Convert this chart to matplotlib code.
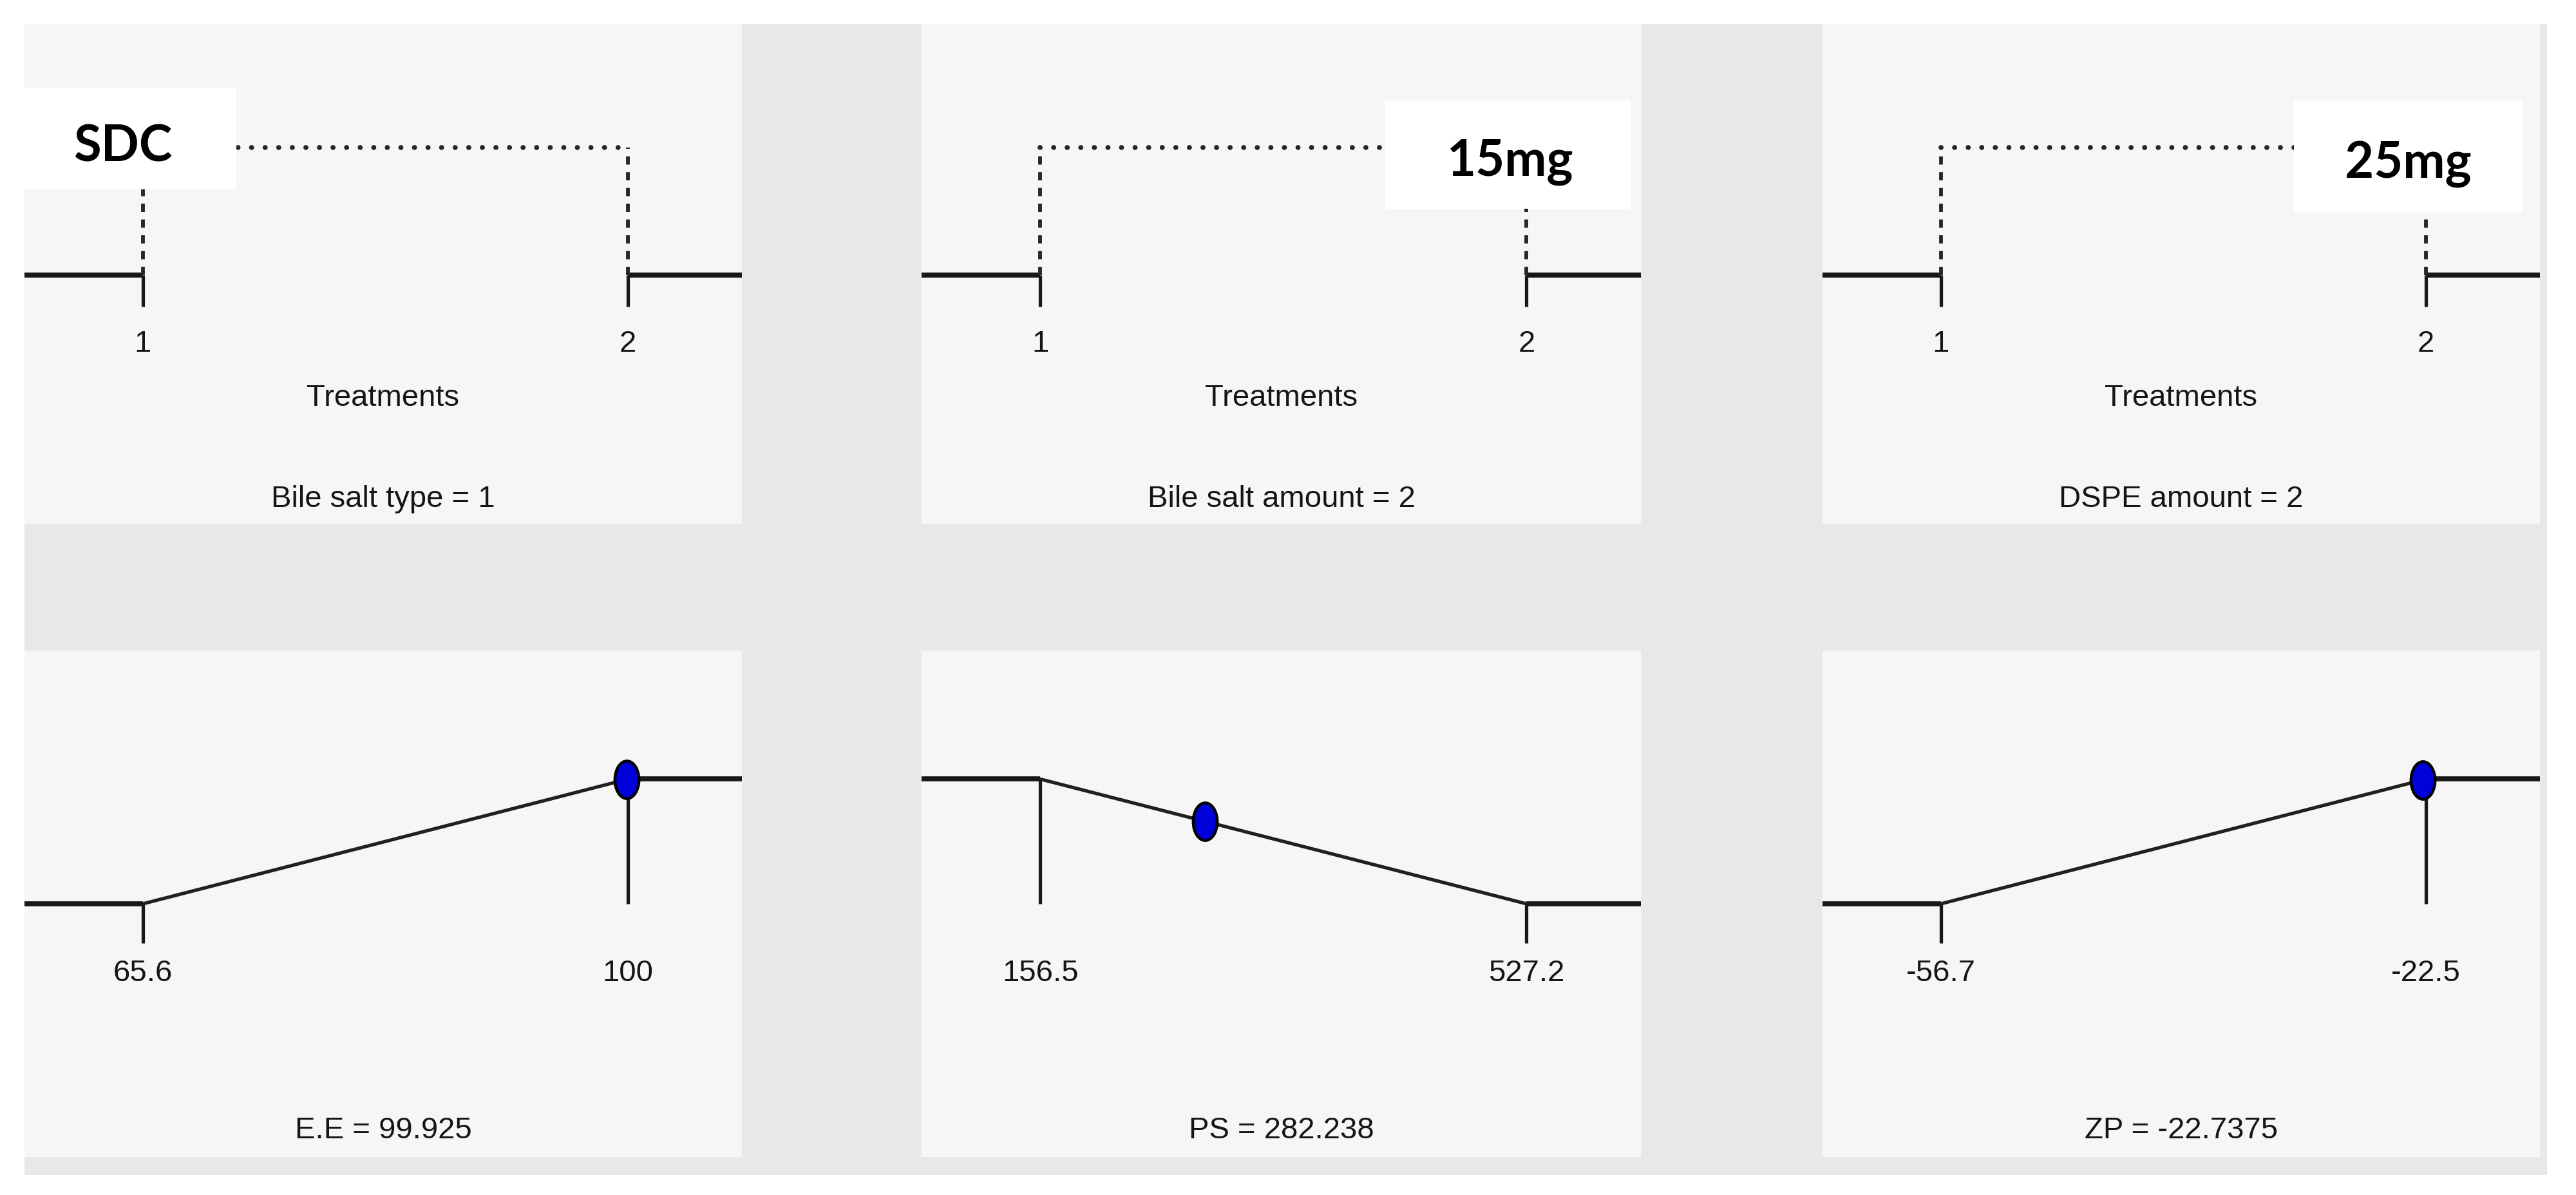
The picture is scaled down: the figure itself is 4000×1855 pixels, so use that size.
import matplotlib
matplotlib.use("Agg")
import matplotlib.pyplot as plt
from matplotlib import font_manager
from matplotlib.markers import MarkerStyle
from matplotlib.patches import Rectangle
from matplotlib.transforms import Affine2D

# ---------------- data ----------------
factor_names = ["Bile salt type", "Bile salt amount", "DSPE amount"]
factor_levels = [1, 2]
factor_settings = [1, 2, 2]
factor_notes = ["SDC", "15mg", "25mg"]

response_names = ["E.E", "PS", "ZP"]
response_low = [65.6, 156.5, -56.7]
response_high = [100, 527.2, -22.5]
response_goal = ["max", "min", "max"]
response_pred = [99.925, 282.238, -22.7375]

# ---------------- fonts ----------------
try:
    font_manager.findfont("Liberation Sans Narrow", fallback_to_default=False)
    LABEL_FONT, LABEL_FS = "Liberation Sans Narrow", 40
except ValueError:
    LABEL_FONT, LABEL_FS = "Liberation Sans", 34
NOTE_FONT = "Lato"

W, H = 4000, 1856
fig = plt.figure(figsize=(W / 100, H / 100), dpi=100, facecolor="white")

# grey frame behind the panels
fig.add_artist(Rectangle((38 / W, 1 - 1825 / H), (3955 - 38) / W, (1825 - 38) / H,
                         transform=fig.transFigure, facecolor="#e8e8e8",
                         edgecolor="none", zorder=0))

cols = [(38, 1152), (1431, 2548), (2830, 3944)]
rows = [(38, 815), (1011, 1797)]
F1, F2 = 0.165, 0.841  # axes fraction of the low / high marks

TXT = "#151515"
LINE = "#181818"
THICK, THIN = 5.6, 3.8


def make_ax(col, row):
    x0, x1 = cols[col]
    y0, y1 = rows[row]
    ax = fig.add_axes([x0 / W, 1 - y1 / H, (x1 - x0) / W, (y1 - y0) / H])
    ax.set_facecolor("#f6f6f6")
    for s in ax.spines.values():
        s.set_visible(False)
    ax.set_xticks([])
    ax.set_yticks([])
    return ax


def xlim_for(lo, hi):
    span = (hi - lo) / (F2 - F1)
    left = lo - F1 * span
    return left, left + span


# ---------------- top row: factor ramps ----------------
note_boxes = [((0.0, 0.669), 0.295, 0.202, (0.137, 0.755)),
              ((0.645, 0.631), 0.341, 0.216, (0.818, 0.725)),
              ((0.657, 0.623), 0.319, 0.224, (0.816, 0.721))]

for i in range(3):
    ax = make_ax(i, 0)
    lo, hi = factor_levels
    left, right = xlim_for(lo, hi)
    ax.set_xlim(left, right)
    ax.set_ylim(0, 1)
    base, top, tick_bot = 0.498, 0.753, 0.435

    ax.plot([left, lo], [base, base], color=LINE, lw=THICK, solid_capstyle="butt")
    ax.plot([hi, right], [base, base], color=LINE, lw=THICK, solid_capstyle="butt")
    for lv in factor_levels:
        ax.plot([lv, lv], [tick_bot, base], color=LINE, lw=THIN, solid_capstyle="butt")
        ax.plot([lv, lv], [base, top], color="#262626", lw=4.2,
                linestyle=(0, (2.2, 2.0)), dash_capstyle="butt")
        ax.text(lv, 0.362, f"{lv}", ha="center", va="center", color=TXT,
                family=LABEL_FONT, fontsize=LABEL_FS)
    ax.plot([lo, hi], [top, top], color="#262626", lw=5.6,
            linestyle=(0, (0.01, 2.7)), dash_capstyle="round")

    ax.text(0.5, 0.254, "Treatments", transform=ax.transAxes, ha="center",
            va="center", color=TXT, family=LABEL_FONT, fontsize=LABEL_FS)
    ax.text(0.5, 0.051, f"{factor_names[i]} = {factor_settings[i]}",
            transform=ax.transAxes, ha="center", va="center", color=TXT,
            family=LABEL_FONT, fontsize=LABEL_FS)

    (bx, by), bw, bh, (tx, ty) = note_boxes[i]
    ax.add_patch(Rectangle((bx, by), bw, bh, transform=ax.transAxes,
                           facecolor="white", edgecolor="none", zorder=5))
    ax.text(tx, ty, factor_notes[i], transform=ax.transAxes, ha="center",
            va="center", color="black", family=NOTE_FONT, fontweight="bold",
            fontsize=56, zorder=6)

# ---------------- bottom row: response ramps ----------------
dot = MarkerStyle("o", transform=Affine2D().scale(0.64, 1.0))

for i in range(3):
    ax = make_ax(i, 1)
    lo, hi = response_low[i], response_high[i]
    left, right = xlim_for(lo, hi)
    ax.set_xlim(left, right)
    ax.set_ylim(-2.03, 2.03)

    if response_goal[i] == "max":
        d = lambda v: (v - lo) / (hi - lo)
    else:
        d = lambda v: (hi - v) / (hi - lo)
    d_lo, d_hi = d(lo), d(hi)

    ax.plot([left, lo], [d_lo, d_lo], color=LINE, lw=THICK, solid_capstyle="butt")
    ax.plot([hi, right], [d_hi, d_hi], color=LINE, lw=THICK, solid_capstyle="butt")
    ax.plot([lo, hi], [d_lo, d_hi], color="#202020", lw=3.8)
    for v, dv in ((lo, d_lo), (hi, d_hi)):
        if dv > 0.5:
            ax.plot([v, v], [0, dv], color=LINE, lw=THIN, solid_capstyle="butt")
        else:
            ax.plot([v, v], [-0.317, 0], color=LINE, lw=THIN, solid_capstyle="butt")
        ax.text(v, -0.553, f"{v:g}", ha="center", va="center", color=TXT,
                family=LABEL_FONT, fontsize=LABEL_FS)

    p = response_pred[i]
    ax.plot([p], [d(p)], marker=dot, ms=42, markerfacecolor="#0000d8",
            markeredgecolor="black", markeredgewidth=3.2, zorder=4)

    ax.text(0.5, 0.054, f"{response_names[i]} = {p:g}", transform=ax.transAxes,
            ha="center", va="center", color=TXT, family=LABEL_FONT,
            fontsize=LABEL_FS)

fig.savefig("out.png", dpi=100, facecolor="white")
